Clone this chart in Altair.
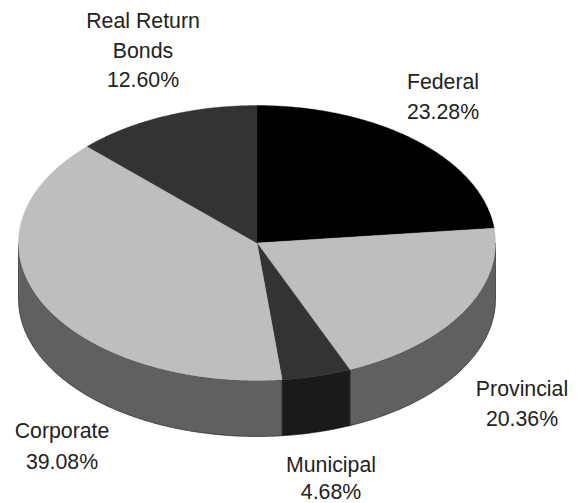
import math
import altair as alt

# Values
names = ["Federal", "Provincial", "Municipal", "Corporate", "Real Return Bonds"]
shares = [23.28, 20.36, 4.68, 39.08, 12.60]
top_colors = ["#000000", "#bebebe", "#333333", "#bebebe", "#333333"]
side_colors = ["#000000", "#606060", "#1a1a1a", "#606060", "#333333"]

label_lines = ["Real Return", "Bonds", "12.60%", "Federal", "23.28%", "Provincial",
               "20.36%", "Municipal", "4.68%", "Corporate", "39.08%"]
label_x = [143, 143, 143, 443, 443, 522, 522, 331, 331, 62, 62]
label_y = [22, 52, 81, 83, 113, 390, 420, 466, 493, 432, 463]

# Pie geometry, in page pixels
CX, CY, RX, RY, DEPTH = 257, 243, 238.5, 137.5, 56
OX, OY = 8, 8


def rim(a0, a1, dy=0.0):
    n = max(2, int(abs(a1 - a0) * 2))
    pts = []
    for i in range(n + 1):
        a = math.radians(a0 + (a1 - a0) * i / n)
        pts.append([CX + RX * math.sin(a) - OX, CY - RY * math.cos(a) + dy - OY])
    return pts


def feature(points, fill, stroke, key):
    return {
        "type": "Feature",
        "geometry": {"type": "Polygon", "coordinates": [points + [points[0]]]},
        "properties": {"fill": fill, "stroke": stroke, "key": key},
    }


side_features, top_features = [], []
cum = 0.0
total = sum(shares)
for name, s, tc, sc in zip(names, shares, top_colors, side_colors):
    a0 = cum / total * 360
    cum += s
    a1 = cum / total * 360
    top = [[CX - OX, CY - OY]] + rim(a0, a1)
    top_features.append(feature(top, tc, tc, name))
    b0, b1 = max(a0, 90), min(a1, 270)
    if b1 > b0:
        wall = rim(b0, b1) + rim(b1, b0, DEPTH)
        side_features.append(feature(wall, sc, "#111111", name))


def geo(features):
    return alt.InlineData(
        values={"type": "FeatureCollection", "features": features},
        format=alt.DataFormat(property="features", type="json"),
    )


sides = alt.Chart(geo(side_features)).mark_geoshape(strokeWidth=0.6).encode(
    fill=alt.Color("properties.fill:N", scale=None),
    stroke=alt.Color("properties.stroke:N", scale=None),
)
tops = alt.Chart(geo(top_features)).mark_geoshape(strokeWidth=0.4).encode(
    fill=alt.Color("properties.fill:N", scale=None),
    stroke=alt.Color("properties.stroke:N", scale=None),
)
labels = alt.Chart(
    alt.Data(values=[
        {"t": t, "x": x - OX, "y": y - OY}
        for t, x, y in zip(label_lines, label_x, label_y)
    ])
).mark_text(
    font="Liberation Sans", fontSize=21.3, color="#222222", align="center", baseline="middle"
).encode(longitude="x:Q", latitude="y:Q", text="t:N")

chart = (
    alt.layer(sides, tops, labels)
    .project(type="identity", scale=1, translate=[0, 0])
    .properties(width=565, height=495, padding=0, autosize=alt.AutoSizeParams(type="none"))
    .configure_view(stroke=None)
    .configure(background="white")
)

chart.save("out.html", embed_options={"renderer": "svg", "actions": False})
